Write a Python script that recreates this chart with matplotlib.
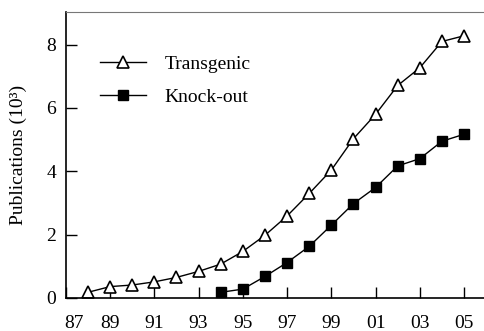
# -*- coding: utf-8 -*-
import matplotlib
matplotlib.use('Agg')
from matplotlib import pyplot as plt
from matplotlib.transforms import ScaledTranslation

"""data read off the figure"""
years = list(range(1988, 2006))
transgenic = [0.18, 0.36, 0.41, 0.51, 0.65, 0.84, 1.07, 1.47, 1.98, 2.59,
              3.30, 4.04, 5.03, 5.80, 6.71, 7.27, 8.10, 8.28]
ko_years = list(range(1994, 2006))
knockout = [0.18, 0.28, 0.68, 1.12, 1.63, 2.30, 2.98, 3.49, 4.17, 4.40, 4.95, 5.17]

tick_years = list(range(1987, 2006, 2))
tick_labels = ['87', '89', '91', '93', '95', '97', '99', '01', '03', '05']

plt.rcParams['font.family'] = ['Liberation Serif', 'DejaVu Serif']
plt.rcParams['font.size'] = 14

fig = plt.figure(figsize=(4.84, 3.31), dpi=100)
ax = fig.add_axes([0.136, 0.0997, 0.864, 0.864])

ax.plot(years, transgenic, color='black', lw=1, marker='^', markersize=9,
        markerfacecolor='white', markeredgecolor='black', markeredgewidth=1.2,
        label='Transgenic')
ax.plot(ko_years, knockout, color='black', lw=1, marker='s', markersize=7,
        markerfacecolor='black', label='Knock-out')

ax.set_xlim(1987, 2005.9)
ax.set_ylim(0, 9.03)
ax.set_xticks(tick_years)
ax.set_xticklabels(tick_labels)
ax.set_yticks([0, 2, 4, 6, 8])
ax.tick_params(direction='in', length=8, width=1, pad=7)
ax.tick_params(axis='x', pad=12)
ax.set_ylabel('Publications (10³)', labelpad=14)

# first label sits a little right of the spine in the original
lab = ax.get_xticklabels()[0]
lab.set_transform(lab.get_transform() + ScaledTranslation(0.08, 0, fig.dpi_scale_trans))

ax.spines['right'].set_visible(False)
ax.spines['top'].set_color('#777777')
for s in ['left', 'bottom']:
    ax.spines[s].set_linewidth(1.2)

ax.legend(loc='upper left', bbox_to_anchor=(0.081, 0.85), frameon=False,
          borderpad=0, borderaxespad=0, handlelength=2.4, handletextpad=0.95,
          labelspacing=0.8)

fig.savefig('out.png', dpi=100)
